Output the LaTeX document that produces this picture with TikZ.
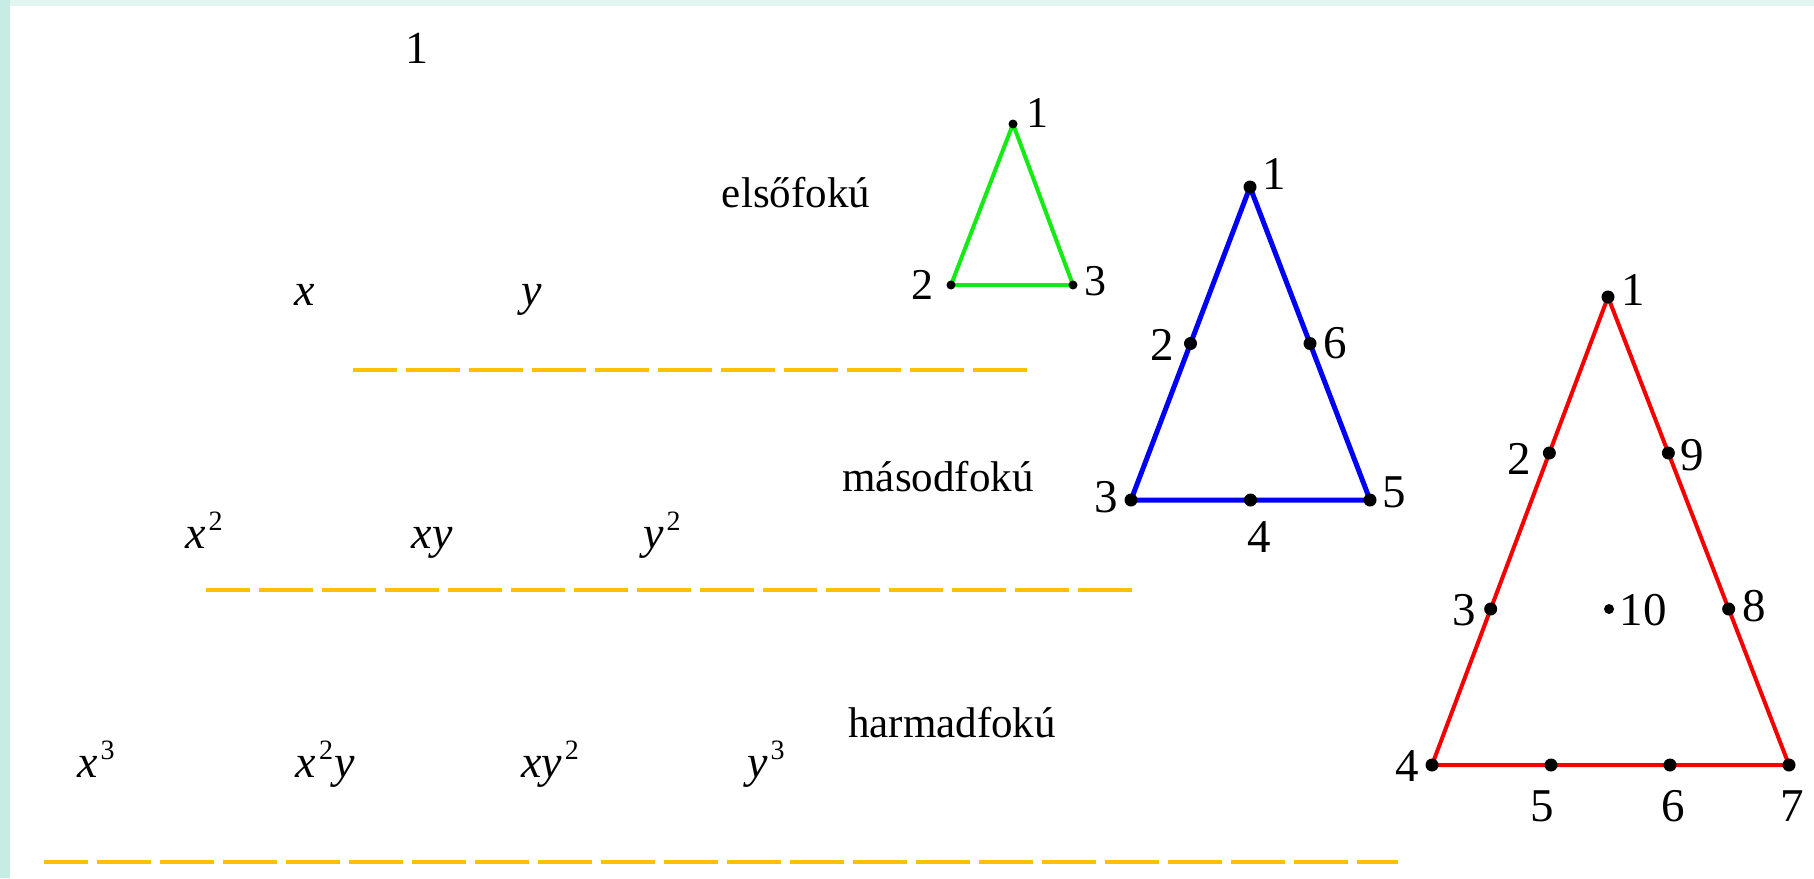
\documentclass[tikz,border=0pt]{standalone}
\usepackage{fontspec}
\setmainfont{Liberation Serif}
\usetikzlibrary{calc}
\definecolor{dashc}{RGB}{255,192,0}
\definecolor{grn}{RGB}{20,235,20}
\definecolor{blu}{RGB}{0,0,245}
\definecolor{rd}{RGB}{245,0,0}
\definecolor{tealL}{RGB}{198,236,227}
\definecolor{tealT}{RGB}{226,245,241}
\newcommand\expo[1]{\kern3pt\raisebox{18pt}{\fontsize{28}{28}\selectfont\upshape #1}}
\tikzset{
  txt/.style={inner sep=0pt, anchor=base, font=\fontsize{43}{43}\selectfont},
  mth/.style={inner sep=0pt, anchor=base, font=\fontsize{46}{46}\selectfont\itshape},
  lab/.style={inner sep=0pt, font=\fontsize{47}{47}\selectfont},
  glab/.style={inner sep=0pt, font=\fontsize{44}{44}\selectfont},
  dsh/.style={draw=dashc, line width=4pt, dash pattern=on 54pt off 9pt, dash phase=10pt},
  bigdot/.style={circle, fill=black, inner sep=0pt, minimum size=13pt},
  middot/.style={circle, fill=black, inner sep=0pt, minimum size=10pt},
  smalldot/.style={circle, fill=black, inner sep=0pt, minimum size=9pt},
}
\begin{document}
\begin{tikzpicture}[x=1pt,y=-1pt]
\useasboundingbox (0,0) rectangle (1814,878);
\fill[white] (0,0) rectangle (1814,878);
\fill[tealT] (0,0) rectangle (1814,6);
\fill[tealL] (0,0) rectangle (10,878);

% left side texts
\node[txt] (one) at (417,63) {\fontsize{46}{46}\selectfont 1};
\node[txt] (el) at (796,207) {elsőfokú};
\node[mth] (x1) at (305,305) {x};
\node[mth] (y1) at (532,305) {y};
\coordinate (d1a) at (353,370); \coordinate (d1b) at (1027,370);
\draw[dsh] (d1a) -- (d1b);

\node[txt] (ma) at (938,491) {másodfokú};
\node[mth] (x2) at (204,548) {x\expo{2}};
\node[mth] (xy) at (432,548) {xy};
\node[mth] (y2) at (662,548) {y\expo{2}};
\coordinate (d2a) at (206,590); \coordinate (d2b) at (1134,590);
\draw[dsh] (d2a) -- (d2b);

\node[txt] (ha) at (952,737) {harmadfokú};
\node[mth] (x3) at (96,777) {x\expo{3}};
\node[mth] (x2y) at (325,777) {x\expo{2}\kern1pt y};
\node[mth] (xy2) at (550,777) {xy\expo{2}};
\node[mth] (y3) at (766,777) {y\expo{3}};
\coordinate (d3a) at (44,862); \coordinate (d3b) at (1398,862);
\draw[dsh] (d3a) -- (d3b);

% green triangle
\coordinate (g1) at (1013,124);
\coordinate (g2) at (951,285);
\coordinate (g3) at (1073,285);
\draw[grn, line width=4pt, line join=round] (g1) -- (g2) -- (g3) -- cycle;
\foreach \p in {g1,g2,g3} \node[smalldot] at (\p) {};
\node[glab] (gl1) at (1037,113) {1};
\node[glab] (gl2) at (922,285) {2};
\node[glab] (gl3) at (1095,281) {3};

% blue triangle
\coordinate (b1) at (1250,187);
\coordinate (b3) at (1131,500);
\coordinate (b5) at (1370,500);
\coordinate (b2) at ($(b1)!0.5!(b3)$);
\coordinate (b4) at ($(b3)!0.5!(b5)$);
\coordinate (b6) at ($(b1)!0.5!(b5)$);
\draw[blu, line width=5pt, line join=round] (b1) -- (b3) -- (b5) -- cycle;
\foreach \p in {b1,b2,b3,b4,b5,b6} \node[bigdot] at (\p) {};
\node[lab] (bl1) at (1274,174) {1};
\node[lab] (bl2) at (1162,345) {2};
\node[lab] (bl6) at (1335,343) {6};
\node[lab] (bl3) at (1106,497) {3};
\node[lab] (bl4) at (1259,537) {4};
\node[lab] (bl5) at (1394,492) {5};

% red triangle
\coordinate (r1) at (1608,297);
\coordinate (r4) at (1432,765);
\coordinate (r7) at (1789,765);
\coordinate (r2) at ($(r1)!1/3!(r4)$);
\coordinate (r3) at ($(r1)!2/3!(r4)$);
\coordinate (r5) at ($(r4)!1/3!(r7)$);
\coordinate (r6) at ($(r4)!2/3!(r7)$);
\coordinate (r8) at ($(r1)!2/3!(r7)$);
\coordinate (r9) at ($(r1)!1/3!(r7)$);
\coordinate (r10) at (1609,609);
\draw[rd, line width=4pt, line join=round] (r1) -- (r4) -- (r7) -- cycle;
\foreach \p in {r1,r2,r3,r4,r5,r6,r7,r8,r9} \node[bigdot] at (\p) {};
\node[middot] at (r10) {};
\node[lab] (rl1) at (1633,290) {1};
\node[lab] (rl2) at (1519,459) {2};
\node[lab] (rl3) at (1464,610) {3};
\node[lab] (rl4) at (1407,766) {4};
\node[lab] (rl5) at (1542,806) {5};
\node[lab] (rl6) at (1673,806) {6};
\node[lab] (rl7) at (1792,806) {7};
\node[lab] (rl8) at (1754,606) {8};
\node[lab] (rl9) at (1692,455) {9};
\node[lab] (rl10) at (1643,610) {10};
\end{tikzpicture}
\end{document}
